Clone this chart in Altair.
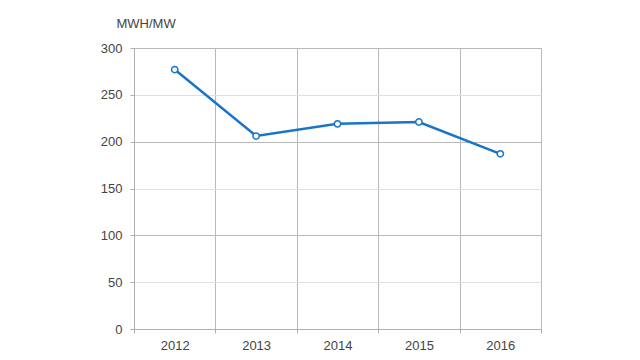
import altair as alt
import pandas as pd

years = ["2012", "2013", "2014", "2015", "2016"]
values = [277, 206, 219, 221, 187]

df = pd.DataFrame({"year": years, "value": values})

base = alt.Chart(df).encode(
    x=alt.X("year:O",
            scale=alt.Scale(paddingInner=0, paddingOuter=0),
            axis=alt.Axis(title=None, labelAngle=0, tickBand="extent", grid=True,
                          gridColor="#b8b8b8",
                          tickSize=4, tickColor="#b0b0b0", domainColor="#b0b0b0",
                          labelPadding=6, labelFontSize=13, labelColor="#444",
                          labelFont="Liberation Sans")),
    y=alt.Y("value:Q",
            scale=alt.Scale(domain=[0, 300]),
            axis=alt.Axis(values=[0, 50, 100, 150, 200, 250, 300], grid=True,
                          gridColor={"condition": {"test": "datum.value % 100 == 0", "value": "#b8b8b8"}, "value": "#e0e0e0"},
                          tickSize=4, tickColor="#b0b0b0", domainColor="#b0b0b0",
                          labelPadding=8, labelFontSize=13, labelColor="#444",
                          labelFont="Liberation Sans",
                          title="MWH/MW", titleAngle=0, titleAlign="left",
                          titleBaseline="alphabetic", titleX=-18, titleY=-21,
                          titleFontSize=13, titleFontWeight="normal",
                          titleColor="#444", titleFont="Liberation Sans")),
)

line = base.mark_line(color="#1a74c8", strokeWidth=2.5)
pts = base.mark_point(shape="circle", size=40, filled=True, fill="white",
                      stroke="#1a74c8", strokeWidth=1.5, opacity=1)

chart = (line + pts).properties(
    width=407, height=281,
    autosize=alt.AutoSizeParams(type="none"),
    padding={"left": 126, "top": 40, "right": 10, "bottom": 40},
).configure_view(stroke="#e0e0e0")

chart.save("out.html", embed_options={"renderer": "svg", "actions": False})
